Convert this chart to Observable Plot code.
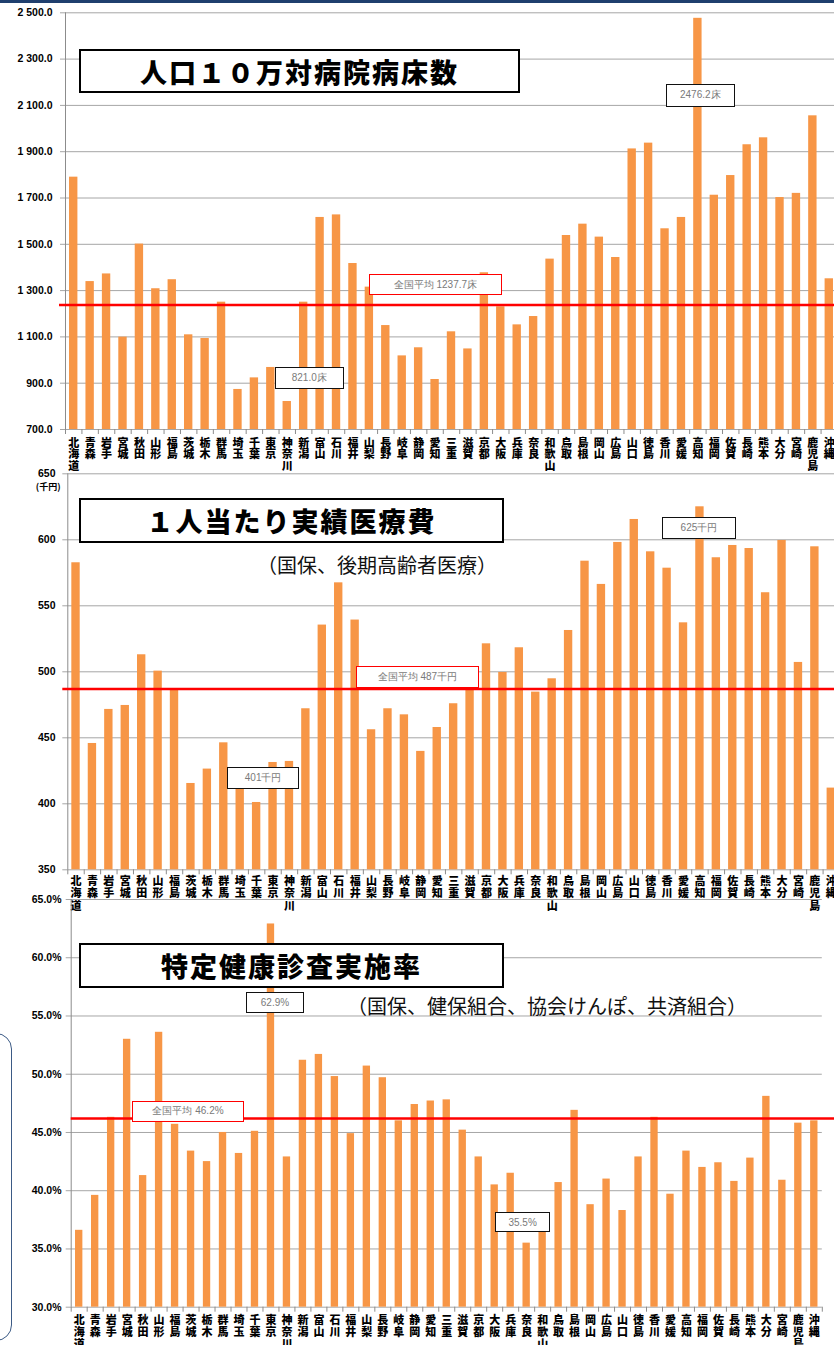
<!DOCTYPE html>
<html>
<head>
<meta charset="utf-8">
<script src="https://cdn.jsdelivr.net/npm/d3@7"></script>
<script src="https://cdn.jsdelivr.net/npm/@observablehq/plot@0.6"></script>
<style>
  html, body { margin: 0; padding: 0; background: #fff; overflow: hidden; }
  #page { position: relative; width: 834px; height: 1345px; overflow: hidden; background: #fff; }
  .topbar { position: absolute; left: 0; top: 0; width: 834px; height: 3px; background: #1f3f6e; }
  .sidebox { position: absolute; left: -40px; top: 1033px; width: 52px; height: 308px; box-sizing: border-box;
             border: 1.5px solid #3b5a85; border-radius: 16px; }
  .panel { position: absolute; left: 0; width: 834px; }
  .title { position: absolute; box-sizing: border-box; border: 2.5px solid #000; background: #fff;
           font-family: "Noto Sans CJK JP", sans-serif; font-weight: 900; font-size: 27px; letter-spacing: 2px;
           display: flex; align-items: center; justify-content: center; color: #000; white-space: nowrap; }
  .sub { position: absolute; font-family: "Noto Sans CJK JP", sans-serif; font-size: 20px; line-height: 20px;
         color: #111; white-space: nowrap; }
  .note { position: absolute; box-sizing: border-box; border: 1.5px solid #111; background: #fff;
          font-family: "Liberation Sans", Arial, sans-serif; font-size: 10px; color: #7a7a7a;
          display: flex; align-items: center; justify-content: center; white-space: nowrap; }
  .note.avg { border-color: #ff0000; }
</style>
</head>
<body>
<div id="page">
  <div class="topbar"></div>
  <div class="sidebox"></div>
</div>
<script>
// 47 prefectures, north to south
const prefectures = ["北海道","青森","岩手","宮城","秋田","山形","福島","茨城","栃木","群馬","埼玉","千葉","東京","神奈川","新潟","富山","石川","福井","山梨","長野","岐阜","静岡","愛知","三重","滋賀","京都","大阪","兵庫","奈良","和歌山","鳥取","島根","岡山","広島","山口","徳島","香川","愛媛","高知","福岡","佐賀","長崎","熊本","大分","宮崎","鹿児島","沖縄"];

// hospital beds per 100,000 population
const beds = [1790,1339,1372,1099,1501,1308,1347,1109,1093,1250,873,923,968,821.0,1250,1616,1627,1417,1315,1149,1018,1053,916,1122,1048,1377,1230,1152,1188,1436,1538,1587,1531,1443,1912,1937,1567,1616,2476.2,1712,1797,1930,1960,1702,1720,2055,1351];
const bedsAvg = 1237.7;
const bedsTicks = [700,900,1100,1300,1500,1700,1900,2100,2300,2500];

// medical cost per person (thousand yen)
const costs = [582.6,445.7,471.5,474.5,512.9,500.5,486.9,415.4,426.3,446.2,413,401,431.3,432.1,472,535.4,567.4,539.2,456.1,472,467.4,439.7,457.8,475.8,486.9,521.2,499.5,518.2,484.6,494.7,531.3,583.8,566.2,598,615.4,590.9,578.5,537.1,625,586.4,595.7,593.4,559.9,599.5,507.1,594.7,411.9];
const costsAvg = 487;
const costsTicks = [350,400,450,500,550,600,650];

// specific health checkup rate (%)
const checkup = [36.6,39.6,46.3,53.0,41.3,53.6,45.7,43.4,42.5,45.0,43.2,45.1,62.9,42.9,51.2,51.7,49.8,44.9,50.7,49.7,46.0,47.4,47.7,47.8,45.2,42.9,40.5,41.5,35.5,36.6,40.7,46.9,38.8,41.0,38.3,42.9,46.3,39.7,43.4,42.0,42.4,40.8,42.8,48.1,40.9,45.8,46.0];
const checkupAvg = 46.2;
const checkupTicks = [30,35,40,45,50,55,60,65];

const fontJP = '"Noto Sans CJK JP", "Noto Sans", sans-serif';
const fontNum = '"Liberation Sans", Arial, sans-serif';
const spaced = d3.formatLocale({decimal: ".", thousands: " ", grouping: [3], currency: ["", ""]}).format(",.1f");

const page = document.getElementById("page");

function addBox(cls, left, top, w, h, text) {
  const el = document.createElement("div");
  el.className = cls;
  Object.assign(el.style, {left: left + "px", top: top + "px", width: w + "px", height: h + "px"});
  el.textContent = text;
  page.appendChild(el);
  return el;
}

function drawPanel(cfg) {
  const {values, avg, ticks, tickFormat, top, height, mt, mb, ml, mr, padInner} = cfg;
  const W = 834;
  const rows = prefectures.map((p, i) => ({pref: p, value: values[i]}));
  const step = (W - ml - mr) / prefectures.length;
  const y0 = ticks[0], yTop = ticks[ticks.length - 1];
  const axisColor = "#8c8c8c";

  const marks = [
    // gridlines, each with a short tick left of the axis
    Plot.ruleY(ticks, {y: d => d, stroke: "#a6a6a6", strokeWidth: 1, insetLeft: -5, insetRight: cfg.gridInsetRight || 0}),
    // value axis line
    Plot.ruleX([prefectures[0]], {x: d => d, dx: -step / 2, stroke: axisColor}),
    // category tick marks between bars
    Plot.ruleX(prefectures, {x: d => d, dx: -step / 2, y1: y0, y2: y0, insetBottom: -5, stroke: axisColor}),
    Plot.ruleX([prefectures[prefectures.length - 1]], {x: d => d, dx: step / 2, y1: y0, y2: y0, insetBottom: -5, stroke: axisColor}),
    Plot.barY(rows, {x: "pref", y1: y0, y2: "value", fill: "#f79646"}),
    // national average
    Plot.ruleY([avg], {y: d => d, stroke: "#ff0000", strokeWidth: 2.5, insetLeft: cfg.avgInsetLeft, insetRight: -mr}),
    // value labels
    Plot.text(ticks, {y: d => d, frameAnchor: "left", dx: cfg.labelRight - ml, textAnchor: "end",
      text: tickFormat, fontFamily: fontNum, fontWeight: "bold", fontSize: 10.5, fill: "#000"}),
    // prefecture names, one character per line
    Plot.text(prefectures, {x: d => d, frameAnchor: "bottom", dy: cfg.nameDy, lineAnchor: "top",
      lineHeight: cfg.nameLineHeight, text: d => [...d].join("\n"),
      fontFamily: fontJP, fontWeight: 900, fontSize: 11, fill: "#000"})
  ];
  if (cfg.unit) {
    marks.push(Plot.text([cfg.unit], {text: d => d, frameAnchor: "top-left", textAnchor: "start", dx: -32, dy: 10,
      fontFamily: fontJP, fontWeight: "bold", fontSize: 9, fill: "#000"}));
  }

  const chart = Plot.plot({
    width: W, height,
    marginTop: mt, marginBottom: mb, marginLeft: ml, marginRight: mr,
    style: {background: "transparent", overflow: "visible"},
    x: {type: "band", domain: prefectures, paddingInner: padInner, paddingOuter: padInner / 2, round: false, axis: null},
    y: {domain: [y0, yTop], axis: null},
    marks
  });

  const wrap = document.createElement("div");
  wrap.className = "panel";
  wrap.style.top = top + "px";
  wrap.style.height = height + "px";
  wrap.appendChild(chart);
  page.appendChild(wrap);

  const xs = chart.scale("x"), ys = chart.scale("y");
  const cx = p => xs.apply(p) + xs.bandwidth / 2;
  const py = v => top + ys.apply(v);

  // title and subtitle
  const t = cfg.title;
  addBox("title", t.left, t.top, t.w, t.h, t.text);
  if (cfg.subtitle) {
    const s = document.createElement("div");
    s.className = "sub";
    s.style.left = cfg.subtitle.left + "px";
    s.style.top = cfg.subtitle.top + "px";
    s.textContent = cfg.subtitle.text;
    page.appendChild(s);
  }

  // callouts for the highest and lowest prefecture
  const iMax = d3.maxIndex(values), iMin = d3.minIndex(values);
  for (const [i, b] of [[iMax, cfg.maxBox], [iMin, cfg.minBox]]) {
    const p = prefectures[i];
    addBox("note", cx(p) + b.dx, py(values[i]) + b.dy, b.w, b.h, cfg.fmt(values[i]));
  }
  const a = cfg.avgBox;
  addBox("note avg", cx(a.pref) + a.dx, py(avg) + a.dy, a.w, a.h, "全国平均 " + cfg.avgFmt(avg));
}

drawPanel({
  values: beds, avg: bedsAvg, ticks: bedsTicks, tickFormat: d => spaced(d),
  top: 0, height: 475, mt: 12.3, mb: 46, ml: 65, mr: -3, padInner: 0.49,
  labelRight: 52, avgInsetLeft: -6, nameDy: 9, nameLineHeight: 1.05,
  title: {left: 79, top: 49, w: 441, h: 44, text: "人口１０万対病院病床数"},
  fmt: v => d3.format(".1f")(v) + "床",
  avgFmt: v => d3.format(".1f")(v) + "床",
  maxBox: {dx: -31.6, dy: 66, w: 69, h: 23},
  minBox: {dx: -12, dy: -34, w: 69, h: 22},
  avgBox: {pref: "山梨", dx: 0, dy: -30.5, w: 133, h: 21}
});

drawPanel({
  values: costs, avg: costsAvg, ticks: costsTicks, tickFormat: d => String(d),
  top: 460, height: 465, mt: 13.3, mb: 55.7, ml: 67.3, mr: -5, padInner: 0.49,
  labelRight: 55, avgInsetLeft: -5, nameDy: 7, nameLineHeight: 1.1, unit: "(千円)",
  title: {left: 79, top: 498, w: 425, h: 45, text: "１人当たり実績医療費"},
  subtitle: {left: 257, top: 555, text: "（国保、後期高齢者医療）"},
  fmt: v => v + "千円",
  avgFmt: v => v + "千円",
  maxBox: {dx: -37.5, dy: 10.7, w: 74, h: 22},
  minBox: {dx: -29, dy: -35, w: 72, h: 22},
  avgBox: {pref: "福井", dx: 1.3, dy: -22.5, w: 123, h: 22}
});

drawPanel({
  values: checkup, avg: checkupAvg, ticks: checkupTicks, tickFormat: d => d.toFixed(1) + "%",
  top: 885, height: 460, mt: 14, mb: 38.3, ml: 70.7, mr: 12.2, padInner: 0.54,
  labelRight: 61, avgInsetLeft: 0, nameDy: 8.5, nameLineHeight: 1.1,
  title: {left: 79, top: 943, w: 425, h: 45, text: "特定健康診査実施率"},
  subtitle: {left: 347, top: 996, text: "（国保、健保組合、協会けんぽ、共済組合）"},
  fmt: v => v.toFixed(1) + "%",
  avgFmt: v => v.toFixed(1) + "%",
  maxBox: {dx: -24.5, dy: 68.6, w: 58, h: 21},
  minBox: {dx: -31, dy: -30.6, w: 55, h: 20},
  avgBox: {pref: "宮城", dx: 5.4, dy: -17.3, w: 112, h: 21}
});
</script>
</body>
</html>
